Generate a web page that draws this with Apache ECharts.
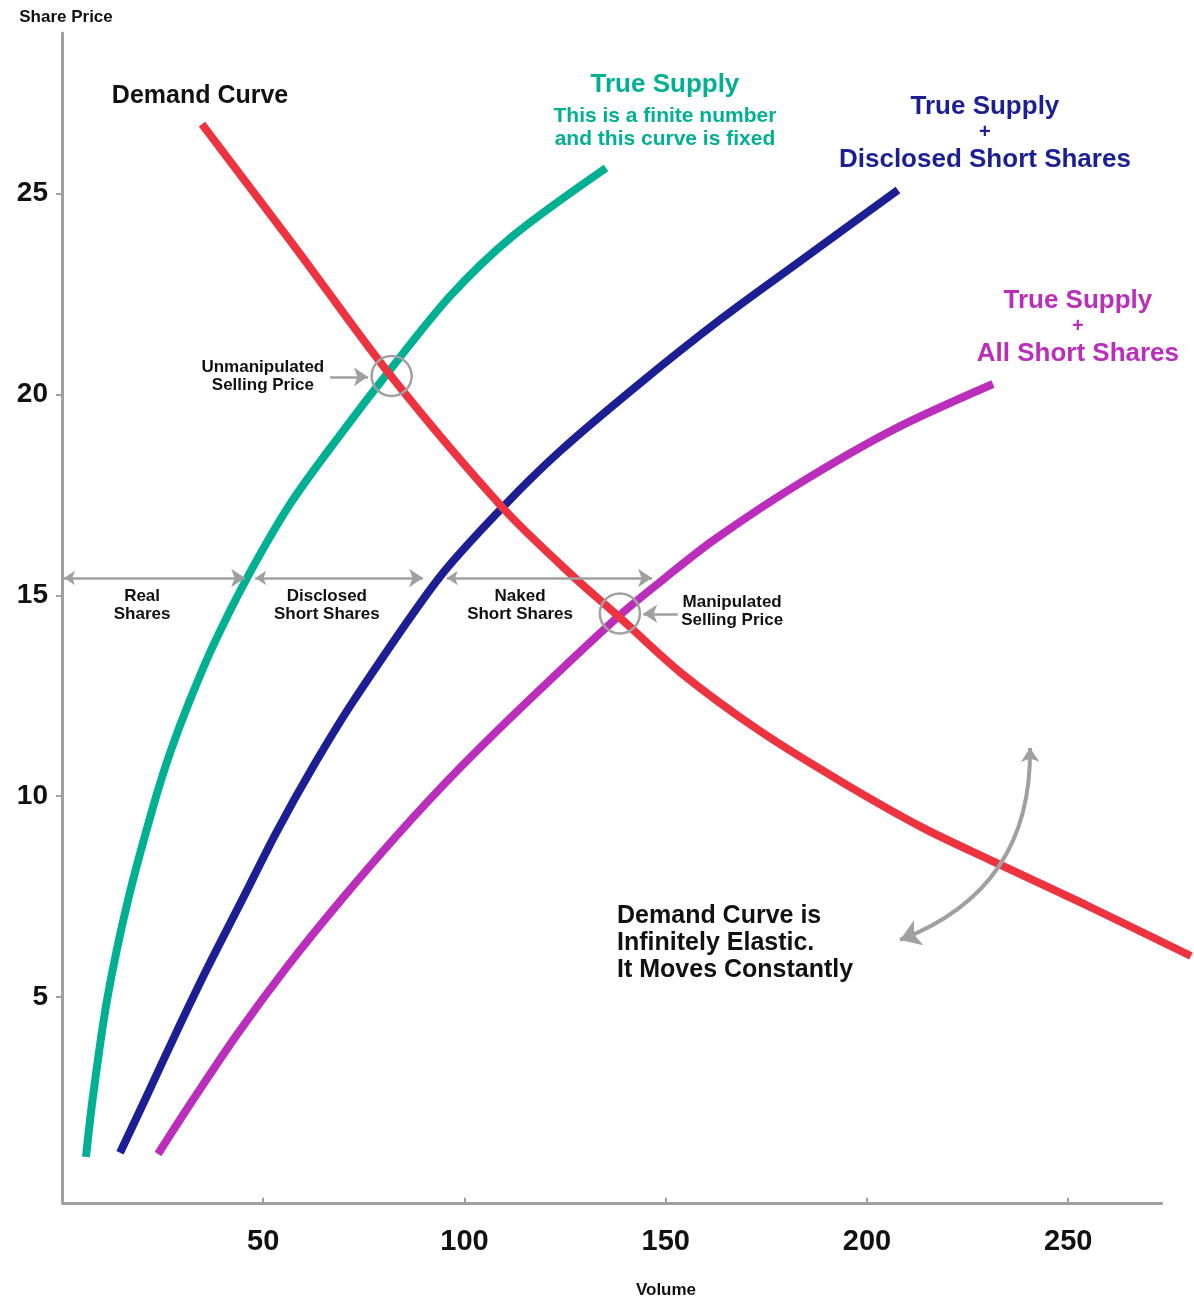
<!DOCTYPE html>
<html>
<head>
<meta charset="utf-8">
<script src="https://cdn.jsdelivr.net/npm/echarts@6/dist/echarts.min.js"></script>
<style>
  html, body { margin: 0; padding: 0; background: #ffffff; }
  #chart { width: 1194px; height: 1299px; }
</style>
</head>
<body>
<div id="chart"></div>
<script>
// ---- data (volume, share price) ----
const demandCurve = [[34.78,26.73],[57.89,23.67],[81.49,20.49],[109.57,17.17],[127.45,15.43],[137.89,14.51],[153.54,13.09],[173.42,11.62],[193.79,10.35],[213.91,9.21],[231.06,8.39],[254.41,7.29],[280.5,6.02]];
const trueSupply = [[5.96,1.02],[7.6,2.45],[11.18,4.92],[16.4,7.41],[23.11,9.90],[27.1,11.15],[31.30,12.27],[37.52,13.74],[45.96,15.43],[56.65,17.27],[69.07,18.99],[81.49,20.61],[96.40,22.45],[112.05,23.95],[135.16,25.64]];
const supplyPlusDisclosed = [[14.41,1.12],[20.62,2.44],[28.32,4.10],[36.27,5.75],[44.72,7.41],[53.17,9.08],[62.36,10.73],[72.55,12.39],[93.66,15.43],[109.57,17.20],[123.73,18.59],[143.35,20.26],[163.98,21.90],[183.11,23.30],[207.70,25.09]];
const supplyPlusAllShorts = [[23.85,1.09],[32.55,2.44],[43.73,4.10],[55.90,5.75],[69.32,7.41],[83.73,9.08],[99.13,10.73],[116.02,12.39],[138.63,14.51],[149.81,15.43],[161.99,16.38],[182.11,17.72],[206.46,19.12],[231.30,20.26]];
const xTicks = [50, 100, 150, 200, 250];
const yTicks = [5, 10, 15, 20, 25];

// share ranges along the price level of the horizontal arrows
const rangeLevel = 15.43;
const shareRanges = [
  { label: 'Real\nShares', from: 0.5, to: 45.5, labelAt: [19.9, 14.76] },
  { label: 'Disclosed\nShort Shares', from: 48.0, to: 89.7, labelAt: [65.8, 14.76] },
  { label: 'Naked\nShort Shares', from: 95.6, to: 146.6, labelAt: [113.8, 14.76] }
];
// equilibrium points (circled)
const equilibria = [
  { label: 'Unmanipulated\nSelling Price', at: [81.9, 20.46], pointerFrom: [66.6, 20.44], pointerTo: [76.0, 20.44], labelAt: [49.9, 20.46] },
  { label: 'Manipulated\nSelling Price', at: [138.6, 14.55], pointerFrom: [153.0, 14.54], pointerTo: [144.4, 14.54], labelAt: [166.5, 14.59] }
];
// curved "moves constantly" arrow ends
const elasticArrow = [[240.5, 11.2], [208.2, 6.42]];
const xExtent = [0, 273.5];   // drawn extent of the volume axis line
const yFloor = -0.13;

const FONT = '"Liberation Sans", Arial, sans-serif';
const GRAY = '#a0a0a0';
const TEAL = '#00b092', NAVY = '#1b1f93', MAGENTA = '#bb2dbb', RED = '#ee3340';

function textItem(pos, text, color, size, lh, position) {
  return {
    value: pos,
    label: {
      show: true, formatter: text, color: color, fontSize: size, lineHeight: lh,
      fontWeight: 'bold', fontFamily: FONT,
      position: position || 'inside', distance: 0, align: position === 'right' ? 'left' : 'center'
    }
  };
}

const texts = [
  textItem([34.3, 27.44], 'Demand Curve', '#111', 25, 28),
  textItem([149.8, 27.72], 'True Supply', TEAL, 26, 28),
  textItem([149.8, 26.64], 'This is a finite number\nand this curve is fixed', TEAL, 21, 23),
  textItem([229.3, 27.16], 'True Supply', NAVY, 26, 28),
  textItem([229.3, 26.52], '+', NAVY, 20, 22),
  textItem([229.3, 25.83], 'Disclosed Short Shares', NAVY, 26, 28),
  textItem([252.4, 22.33], 'True Supply', MAGENTA, 26, 28),
  textItem([252.4, 21.69], '+', MAGENTA, 20, 22),
  textItem([252.4, 21.01], 'All Short Shares', MAGENTA, 26, 28),
  textItem([137.9, 6.33], 'Demand Curve is\nInfinitely Elastic.\nIt Moves Constantly', '#111', 25, 27, 'right')
];
shareRanges.forEach(r => texts.push(textItem(r.labelAt, r.label, '#111', 17, 18)));
equilibria.forEach(e => texts.push(textItem(e.labelAt, e.label, '#111', 17, 18)));

const arrowLines = [];
shareRanges.forEach(r => arrowLines.push({ coords: [[r.from, rangeLevel], [r.to, rangeLevel]], symbol: ['arrow', 'arrow'] }));
equilibria.forEach(e => arrowLines.push({ coords: [e.pointerFrom, e.pointerTo], symbol: ['none', 'arrow'] }));

const curveStyle = { type: 'line', smooth: 0.3, showSymbol: false, clip: false, z: 2 };

const chart = echarts.init(document.getElementById('chart'));
chart.setOption({
  animation: false,
  backgroundColor: '#ffffff',
  grid: { left: 62, right: 1, top: 33, bottom: 96 },
  xAxis: {
    type: 'value', min: 0, max: 281,
    axisLine: { show: false },
    axisTick: { show: true, customValues: xTicks, length: 6, lineStyle: { color: GRAY, width: 2 } },
    axisLabel: { customValues: xTicks, fontSize: 29, fontWeight: 'bold', color: '#111', fontFamily: FONT, margin: 24 },
    splitLine: { show: false }
  },
  yAxis: {
    type: 'value', min: yFloor, max: 29,
    name: 'Share Price', nameLocation: 'end', nameGap: 7,
    nameTextStyle: { fontSize: 17, fontWeight: 'bold', color: '#111', fontFamily: FONT, align: 'center', verticalAlign: 'bottom', padding: [0, 0, 0, 8] },
    axisLine: { show: true, onZero: false, lineStyle: { color: GRAY, width: 3 } },
    axisTick: { show: true, customValues: yTicks, length: 6, lineStyle: { color: GRAY, width: 2 } },
    axisLabel: { customValues: yTicks, fontSize: 28, fontWeight: 'bold', color: '#111', fontFamily: FONT, margin: 14 },
    splitLine: { show: false }
  },
  graphic: [{
    type: 'text', x: 666, y: 1290,
    style: { text: 'Volume', fill: '#111', font: 'bold 17px ' + FONT, textAlign: 'center', textVerticalAlign: 'middle' }
  }],
  series: [
    Object.assign({}, curveStyle, { name: 'True Supply', data: trueSupply, lineStyle: { color: TEAL, width: 8 } }),
    Object.assign({}, curveStyle, { name: 'True Supply + Disclosed Short Shares', data: supplyPlusDisclosed, lineStyle: { color: NAVY, width: 8 } }),
    Object.assign({}, curveStyle, { name: 'True Supply + All Short Shares', data: supplyPlusAllShorts, lineStyle: { color: MAGENTA, width: 8 } }),
    Object.assign({}, curveStyle, { name: 'Demand Curve', data: demandCurve, lineStyle: { color: RED, width: 8 }, z: 3,
      markLine: {
        silent: true, symbol: 'none', label: { show: false },
        lineStyle: { color: GRAY, width: 3, type: 'solid' },
        data: [[{ coord: [xExtent[0], yFloor] }, { coord: [xExtent[1], yFloor] }]]
      }
    }),
    {
      type: 'lines', coordinateSystem: 'cartesian2d', z: 4, silent: true,
      symbolSize: [11, 14],
      lineStyle: { color: GRAY, width: 2.5, opacity: 1 },
      data: arrowLines
    },
    {
      type: 'lines', coordinateSystem: 'cartesian2d', z: 4, silent: true,
      symbol: ['arrow', 'arrow'], symbolSize: [14, 20],
      lineStyle: { color: GRAY, width: 4, opacity: 1, curveness: 0.35 },
      data: [{ coords: elasticArrow }]
    },
    {
      type: 'scatter', z: 5, silent: true,
      symbol: 'circle', symbolSize: 40,
      itemStyle: { color: 'rgba(0,0,0,0)', borderColor: GRAY, borderWidth: 2.5, opacity: 1 },
      data: equilibria.map(e => e.at)
    },
    {
      type: 'scatter', z: 6, silent: true, symbolSize: 0,
      itemStyle: { opacity: 1 },
      data: texts
    }
  ]
});
</script>
</body>
</html>
